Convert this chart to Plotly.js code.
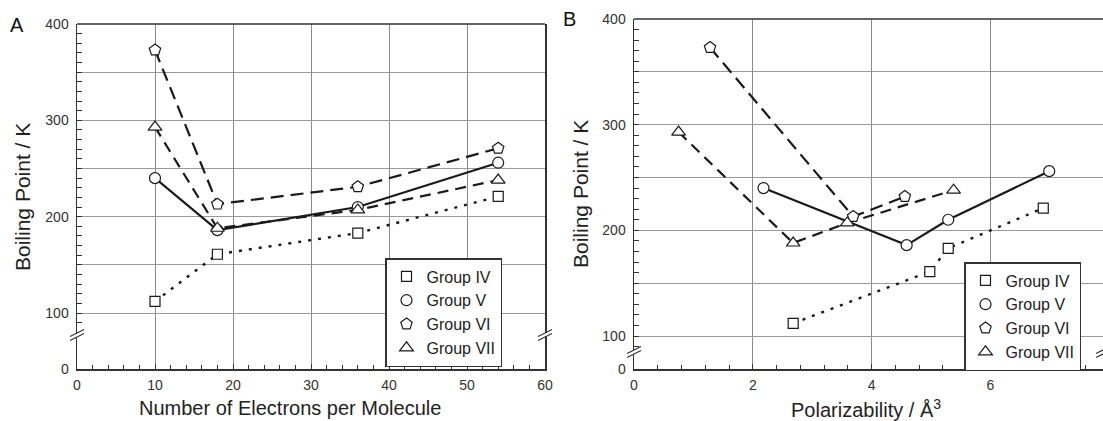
<!DOCTYPE html>
<html>
<head>
<meta charset="utf-8">
<script src="https://cdn.plot.ly/plotly-3.0.1.min.js"></script>
<style>html,body{margin:0;padding:0;background:#fff;}#chart{width:1103px;height:421px;}</style>
</head>
<body>
<div id="chart"></div>
<script>
// ---- data ----
const groups = ['Group IV', 'Group V', 'Group VI', 'Group VII'];
// Panel A: number of electrons per molecule
const electrons = [10, 18, 36, 54];
const bpIV = [112, 161, 183, 221];
const bpV = [240, 186, 210, 256];
const bpVI = [373, 213, 231, 271];
const bpVII = [293, 188, 207, 238];
// Panel B: polarizability (Å^3)
const polIV = [2.68, 4.98, 5.29, 6.89];
const polV = [2.18, 4.59, 5.29, 6.99];
const polVI = [1.28, 3.69, 4.56];
const bpVIb = [373, 213, 232];
const polVII = [0.75, 2.68, 3.59, 5.38];
// tick labels
const xTicksA = [0, 10, 20, 30, 40, 50, 60];
const xTicksB = [0, 2, 4, 6];
const yTicks = [100, 200, 300, 400];

// ---- styling ----
const FONT = 'Liberation Sans, Arial, Helvetica, sans-serif';
const INK = '#1a1a1a';
const symbols = ['square', 'circle', 'pentagon', 'triangle-up'];
const sizes = [10, 11, 12, 12];
const dashes = ['3px,7px', 'solid', '13px,7px', '11px,7px'];
const widths = [2.4, 2.2, 2.2, 2.2];

const W = 1103, H = 421;
const px = v => v / W;
const py = v => (H - v) / H;

const seriesA = [[electrons, bpIV], [electrons, bpV], [electrons, bpVI], [electrons, bpVII]];
const seriesB = [[polIV, bpIV], [polV, bpV], [polVI, bpVIb], [polVII, bpVII]];

const traces = [];
function addPanel(series, xa, ya, legend) {
  series.forEach((s, i) => {
    traces.push({x: s[0], y: s[1], xaxis: xa, yaxis: ya, mode: 'lines', showlegend: false,
      line: {color: INK, width: widths[i], dash: dashes[i]}, hoverinfo: 'skip'});
  });
  series.forEach((s, i) => {
    traces.push({x: s[0], y: s[1], xaxis: xa, yaxis: ya, mode: 'markers', name: groups[i], legend: legend,
      marker: {symbol: symbols[i], size: sizes[i], color: '#fff', line: {color: INK, width: 1.2}}});
  });
}
addPanel(seriesA, 'x', 'y', 'legend');
addPanel(seriesB, 'x2', 'y3', 'legend2');
// empty traces so the lower (broken) axis strips and the fine-tick overlays become subplots
traces.push({x: [], y: [], xaxis: 'x', yaxis: 'y2', showlegend: false});
traces.push({x: [], y: [], xaxis: 'x2', yaxis: 'y4', showlegend: false});
traces.push({x: [], y: [], xaxis: 'x', yaxis: 'y5', showlegend: false});
traces.push({x: [], y: [], xaxis: 'x2', yaxis: 'y6', showlegend: false});

const tickFont = {family: FONT, size: 14, color: '#333'};
function xAxis(domain, range, tickvals, anchor, minorDtick) {
  return {domain: domain, range: range, anchor: anchor, tickvals: tickvals,
    ticks: 'inside', ticklen: 5, tickcolor: '#333', tickfont: tickFont, ticklabelstandoff: 3,
    showline: true, linecolor: '#333', linewidth: 1.5, showgrid: true, gridcolor: '#8a8a8a', gridwidth: 1,
    zeroline: false, minor: {dtick: minorDtick, ticks: 'inside', ticklen: 4, tickcolor: '#333', showgrid: false},
    fixedrange: true};
}
function yUpper(domain, range, anchor, mirror) {
  return {domain: domain, range: range, anchor: anchor, tickmode: 'array', tickvals: yTicks,
    ticks: 'inside', ticklen: 5, tickcolor: '#333', tickfont: tickFont, ticklabelstandoff: 4,
    showline: true, linecolor: '#333', linewidth: 1.5, mirror: mirror,
    showgrid: true, gridcolor: '#9a9a9a', gridwidth: 1, zeroline: false,
    minor: {dtick: 50, tick0: 0, ticks: 'inside', ticklen: 5, tickcolor: '#333', showgrid: true, gridcolor: '#9a9a9a', gridwidth: 1},
    fixedrange: true};
}
// overlay carrying the fine (every 10 K) inside ticks, no labels
function yFine(over, anchor) {
  return {overlaying: over, matches: over, anchor: anchor, side: 'left', tickmode: 'linear', tick0: 0, dtick: 10,
    ticks: 'inside', ticklen: 5, tickcolor: '#333', showticklabels: false, showgrid: false, showline: false,
    zeroline: false, fixedrange: true};
}
function yLower(domain, range, anchor, mirror) {
  return {domain: domain, range: range, anchor: anchor, tickmode: 'array', tickvals: [0],
    ticks: '', tickfont: tickFont, ticklabelstandoff: 4, showline: true, linecolor: '#333', linewidth: 1.5,
    mirror: mirror, showgrid: false, zeroline: false, fixedrange: true};
}

// Panel A geometry: x 0..60 over 77..545 px; y 400 at 24px, 100 at 313px, break at 335px, 0 at 369px
const aScale = (313 - 24) / 300;
const aBreak = 100 - (335 - 313) / aScale;
// Panel B geometry: x 0..7.9 over 634..1103 px; y 400 at 19px, 100 at 336px, break at 352px, 0 at 369px
const bScale = (336 - 19) / 300;
const bBreak = 100 - (352 - 336) / bScale;

function breakMark(xref, yref, xa, ya) {
  const base = {type: 'line', xref: xref, yref: yref, xsizemode: 'pixel', ysizemode: 'pixel', xanchor: xa, yanchor: ya, layer: 'above'};
  return [
    Object.assign({}, base, {x0: -7, x1: 7, y0: -3.5, y1: 3.5, line: {color: '#fff', width: 3.5}}),
    Object.assign({}, base, {x0: -7, x1: 7, y0: -1.5, y1: 5.5, line: {color: '#333', width: 1.2}}),
    Object.assign({}, base, {x0: -7, x1: 7, y0: -5.5, y1: 1.5, line: {color: '#333', width: 1.2}})
  ];
}

const shapes = [
  {type: 'line', xref: 'x domain', yref: 'y domain', x0: 0, x1: 1, y0: 1, y1: 1, line: {color: '#333', width: 1.5}},
  {type: 'line', xref: 'x2 domain', yref: 'y3 domain', x0: 0, x1: 1, y0: 1, y1: 1, line: {color: '#333', width: 1.5}}
].concat(breakMark('x domain', 'y domain', 0, 0), breakMark('x domain', 'y domain', 1, 0),
  breakMark('x2 domain', 'y3 domain', 0, 0), breakMark('x2 domain', 'y3 domain', 1, 0));

const titleFont = {family: FONT, size: 20, color: '#222'};
const annotations = [
  {text: 'A', x: px(17), y: py(25), xref: 'paper', yref: 'paper', showarrow: false, xanchor: 'center', yanchor: 'middle', font: {family: FONT, size: 20, color: '#111'}},
  {text: 'B', x: px(569), y: py(19), xref: 'paper', yref: 'paper', showarrow: false, xanchor: 'center', yanchor: 'middle', font: {family: FONT, size: 20, color: '#111'}},
  {text: 'Number of Electrons per Molecule', x: px(290), y: py(408), xref: 'paper', yref: 'paper', showarrow: false, xanchor: 'center', yanchor: 'middle', font: titleFont},
  {text: 'Polarizability / Å<sup>3</sup>', x: px(866), y: py(408), xref: 'paper', yref: 'paper', showarrow: false, xanchor: 'center', yanchor: 'middle', font: titleFont},
  {text: 'Boiling Point / K', x: px(22), y: py(197), xref: 'paper', yref: 'paper', showarrow: false, textangle: -90, xanchor: 'center', yanchor: 'middle', font: {family: FONT, size: 21, color: '#222'}},
  {text: 'Boiling Point / K', x: px(580), y: py(194), xref: 'paper', yref: 'paper', showarrow: false, textangle: -90, xanchor: 'center', yanchor: 'middle', font: {family: FONT, size: 21, color: '#222'}}
];

const legendStyle = {xanchor: 'left', yanchor: 'top', bgcolor: '#fff', bordercolor: '#333', borderwidth: 1.5,
  font: {family: FONT, size: 16, color: '#222'}, itemclick: false, itemdoubleclick: false};

const layout = {
  width: W, height: H, margin: {l: 0, r: 0, t: 0, b: 0}, paper_bgcolor: '#fff', plot_bgcolor: '#fff',
  font: {family: FONT},
  xaxis: xAxis([px(77), px(545)], [0, 60], xTicksA, 'y2', 2),
  yaxis: yUpper([py(335), py(24)], [aBreak, 400], 'x', true),
  yaxis2: yLower([py(369), py(335)], [0, (369 - 335) / aScale], 'x', true),
  yaxis5: yFine('y', 'x'),
  xaxis2: xAxis([px(634), 1], [0, (1103 - 634) / 59.4], xTicksB, 'y4', 0.4),
  yaxis3: yUpper([py(352), py(19)], [bBreak, 400], 'x2', false),
  yaxis4: yLower([py(369), py(352)], [0, (369 - 352) / bScale], 'x2', false),
  yaxis6: yFine('y3', 'x2'),
  legend: Object.assign({x: px(385), y: py(258)}, legendStyle),
  legend2: Object.assign({x: px(964), y: py(262)}, legendStyle),
  shapes: shapes,
  annotations: annotations,
  showlegend: true
};

Plotly.newPlot('chart', traces, layout, {displayModeBar: false, staticPlot: true});
</script>
</body>
</html>
